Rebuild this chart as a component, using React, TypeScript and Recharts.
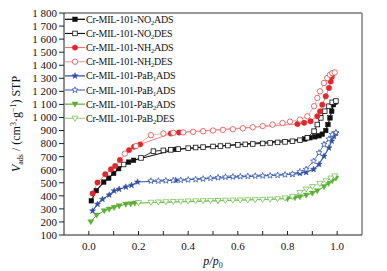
import React from 'react';
import { LineChart, Line, XAxis, YAxis, ReferenceLine, Legend } from 'recharts';

// relative pressure / adsorbed volume
const no2AdsP = [0.01, 0.03, 0.06, 0.08, 0.10, 0.12, 0.16, 0.18, 0.35, 0.87, 0.89, 0.91, 0.927, 0.94, 0.954, 0.963, 0.971, 0.978, 0.985, 0.993];
const no2AdsV = [362, 440, 505, 535, 572, 608, 658, 672, 755, 835, 845, 852, 860, 872, 900, 946, 997, 1048, 1098, 1118];

const no2DesP = [0.14, 0.21, 0.26, 0.30, 0.33, 0.36, 0.40, 0.43, 0.46, 0.50, 0.53, 0.56, 0.60, 0.63, 0.66, 0.70, 0.73, 0.76, 0.79, 0.82, 0.85, 0.88, 0.907, 0.92, 0.934, 0.95, 0.967, 0.98, 0.995];
const no2DesV = [640, 690, 742, 748, 752, 758, 765, 770, 773, 778, 781, 785, 790, 794, 797, 801, 805, 809, 813, 818, 826, 845, 895, 946, 997, 1048, 1086, 1116, 1126];

const nh2AdsP = [0.015, 0.035, 0.066, 0.089, 0.106, 0.125, 0.162, 0.182, 0.207, 0.33, 0.363, 0.84, 0.867, 0.893, 0.92, 0.931, 0.94, 0.954, 0.967, 0.974, 0.978, 0.982];
const nh2AdsV = [418, 502, 565, 603, 628, 674, 750, 776, 794, 877, 885, 950, 959, 971, 1009, 1047, 1098, 1162, 1226, 1276, 1310, 1335];

const nh2DesP = [0.145, 0.19, 0.25, 0.30, 0.34, 0.38, 0.42, 0.46, 0.50, 0.54, 0.58, 0.62, 0.66, 0.70, 0.74, 0.78, 0.81, 0.85, 0.88, 0.907, 0.92, 0.931, 0.947, 0.96, 0.971, 0.98, 0.99];
const nh2DesV = [723, 781, 865, 877, 882, 886, 890, 895, 900, 905, 910, 917, 925, 934, 945, 958, 968, 984, 1009, 1086, 1150, 1200, 1264, 1302, 1327, 1340, 1345];

const pab1AdsP = [0.015, 0.035, 0.055, 0.082, 0.102, 0.122, 0.149, 0.172, 0.196, 0.35, 0.82, 0.85, 0.875, 0.905, 0.927, 0.947, 0.967, 0.978, 0.987, 0.995];
const pab1AdsV = [285, 336, 374, 407, 438, 451, 468, 481, 506, 519, 565, 572, 580, 603, 641, 704, 768, 820, 855, 880];

const pab1DesP = [0.25, 0.28, 0.31, 0.34, 0.37, 0.40, 0.43, 0.46, 0.49, 0.52, 0.55, 0.58, 0.61, 0.64, 0.67, 0.70, 0.73, 0.76, 0.79, 0.82, 0.85, 0.875, 0.905, 0.927, 0.947, 0.967, 0.98, 0.995];
const pab1DesV = [514, 514, 516, 518, 520, 523, 526, 530, 535, 540, 544, 546, 548, 550, 552, 553, 555, 558, 562, 567, 585, 603, 666, 730, 794, 835, 870, 885];

const pab2AdsP = [0.008, 0.031, 0.062, 0.082, 0.102, 0.122, 0.149, 0.169, 0.185, 0.52, 0.80, 0.83, 0.85, 0.875, 0.90, 0.92, 0.947, 0.965, 0.98, 0.995];
const pab2AdsV = [201, 252, 285, 298, 311, 323, 336, 338, 344, 362, 378, 385, 392, 405, 420, 438, 470, 495, 515, 535];

const pab2DesP = [0.20, 0.25, 0.28, 0.31, 0.34, 0.37, 0.40, 0.43, 0.46, 0.49, 0.52, 0.55, 0.58, 0.61, 0.64, 0.67, 0.70, 0.73, 0.76, 0.79, 0.82, 0.85, 0.875, 0.90, 0.93, 0.955, 0.975, 0.99];
const pab2DesV = [348, 350, 352, 354, 356, 358, 360, 361, 362, 363, 364, 366, 367, 368, 369, 370, 372, 374, 377, 383, 395, 425, 451, 470, 495, 514, 535, 552];

const xTicks = [-0.1, 0, 0.1, 0.2, 0.3, 0.4, 0.5, 0.6, 0.7, 0.8, 0.9, 1.0, 1.1];
const yTicks = [100, 200, 300, 400, 500, 600, 700, 800, 900, 1000, 1100, 1200, 1300, 1400, 1500, 1600, 1700, 1800];

const FONT = '"Liberation Serif", "Times New Roman", serif';

type Shape = 'square' | 'circle' | 'star' | 'tri';

const toPoints = (p: number[], v: number[]) => p.map((x, i) => ({ p: x, v: v[i] }));

const series = [
  { key: 'no2a', base: 'NO', sub: '2', tail: 'ADS', data: toPoints(no2AdsP, no2AdsV), color: '#111', line: '#111', lw: 1.1, shape: 'square' as Shape, filled: true },
  { key: 'no2d', base: 'NO', sub: '2', tail: 'DES', data: toPoints(no2DesP, no2DesV), color: '#111', line: '#111', lw: 0.9, shape: 'square' as Shape, filled: false },
  { key: 'nh2a', base: 'NH', sub: '2', tail: 'ADS', data: toPoints(nh2AdsP, nh2AdsV), color: '#e3262b', line: '#ee6a6a', lw: 0.8, shape: 'circle' as Shape, filled: true },
  { key: 'nh2d', base: 'NH', sub: '2', tail: 'DES', data: toPoints(nh2DesP, nh2DesV), color: '#e94a4a', line: '#f08a8a', lw: 0.7, shape: 'circle' as Shape, filled: false },
  { key: 'pb1a', base: 'PaB', sub: '1', tail: 'ADS', data: toPoints(pab1AdsP, pab1AdsV), color: '#2f4ea3', line: '#3655a8', lw: 1.1, shape: 'star' as Shape, filled: true },
  { key: 'pb1d', base: 'PaB', sub: '1', tail: 'ADS', data: toPoints(pab1DesP, pab1DesV), color: '#3a5cb4', line: '#4664b8', lw: 0.9, shape: 'star' as Shape, filled: false },
  { key: 'pb2a', base: 'PaB', sub: '2', tail: 'ADS', data: toPoints(pab2AdsP, pab2AdsV), color: '#5cb035', line: '#5cb035', lw: 1, shape: 'tri' as Shape, filled: true },
  { key: 'pb2d', base: 'PaB', sub: '2', tail: 'DES', data: toPoints(pab2DesP, pab2DesV), color: '#79c35a', line: '#8acc6e', lw: 0.8, shape: 'tri' as Shape, filled: false },
];

function starPath(cx: number, cy: number, r: number) {
  let d = '';
  for (let i = 0; i < 10; i++) {
    const rad = i % 2 === 0 ? r : r * 0.42;
    const a = -Math.PI / 2 + (i * Math.PI) / 5;
    d += (i === 0 ? 'M' : 'L') + (cx + rad * Math.cos(a)).toFixed(2) + ',' + (cy + rad * Math.sin(a)).toFixed(2);
  }
  return d + 'Z';
}

function Marker({ cx, cy, shape, filled, color }: { cx: number; cy: number; shape: Shape; filled: boolean; color: string }) {
  const fill = filled ? color : '#fff';
  const sw = filled ? 0.5 : 0.8;
  if (shape === 'square') return <rect x={cx - 2.3} y={cy - 2.3} width={4.6} height={4.6} fill={fill} stroke={color} strokeWidth={sw} />;
  if (shape === 'circle') return <circle cx={cx} cy={cy} r={2.7} fill={fill} stroke={color} strokeWidth={sw} />;
  if (shape === 'star') return <path d={starPath(cx, cy, 3.2)} fill={fill} stroke={color} strokeWidth={sw} />;
  return <path d={`M${cx - 3},${cy - 2.1}L${cx + 3},${cy - 2.1}L${cx},${cy + 3}Z`} fill={fill} stroke={color} strokeWidth={sw} />;
}

const XTick = (props: any) => {
  const { x, y, payload } = props;
  const v = Math.round(payload.value * 10);
  if (v < 0 || v > 10) return <g />;
  return (
    <g>
      <line x1={x} y1={y} x2={x} y2={y - 4} stroke="#222" strokeWidth={1} />
      {v % 2 === 0 && (
        <text x={x} y={y + 15} textAnchor="middle" fontSize={11} fontFamily={FONT} fill="#111">
          {(v / 10).toFixed(1)}
        </text>
      )}
    </g>
  );
};

const fmtY = (v: number) => (v >= 1000 ? `${Math.floor(v / 1000)} ${String(v % 1000).padStart(3, '0')}` : `${v}`);

const YLabel = () => (
  <text x={20} y={124} transform="rotate(-90 20 124)" textAnchor="middle" fontSize={12} fontFamily={FONT} fill="#111">
    <tspan fontStyle="italic">V</tspan>
    <tspan fontSize={8} dy={3}>ads</tspan>
    <tspan dy={-3}> / (cm</tspan>
    <tspan fontSize={8} dy={-4}>3</tspan>
    <tspan dy={4}>·g</tspan>
    <tspan fontSize={8} dy={-4}>−1</tspan>
    <tspan dy={4}>) STP</tspan>
  </text>
);

const XLabel = () => (
  <text x={213} y={265} textAnchor="middle" fontSize={12} fontFamily={FONT} fill="#111" fontStyle="italic">
    p/p<tspan fontSize={8} dy={3} fontStyle="normal">0</tspan>
  </text>
);

const LegendBox = () => (
  <svg width={200} height={130} style={{ display: 'block' }}>
    {series.map((s, i) => {
      const y = 19.3 + i * 14.14;
      return (
        <g key={s.key}>
          <line x1={65} x2={85} y1={y} y2={y} stroke={s.line} strokeWidth={s.lw + 0.2} />
          <Marker cx={75} cy={y} shape={s.shape} filled={s.filled} color={s.color} />
          <text x={86} y={y + 3.5} fontSize={10} fontFamily={FONT} fill="#111" letterSpacing={-0.2}>
            Cr-MIL-101-{s.base}
            <tspan fontSize={6.5} dy={2}>{s.sub}</tspan>
            <tspan dy={-2}>{s.tail}</tspan>
          </text>
        </g>
      );
    })}
  </svg>
);

export default function App() {
  return (
    <div style={{ position: 'absolute', left: 0, top: 0, width: 387, height: 271, background: '#fff' }}>
      <LineChart width={387} height={271} margin={{ top: 13, right: 25, bottom: 0, left: 14 }}>
        <XAxis
          type="number"
          dataKey="p"
          domain={[-0.1, 1.1]}
          ticks={xTicks}
          interval={0}
          allowDataOverflow
          height={36}
          tickSize={0}
          tickMargin={0}
          tickLine={false}
          tick={<XTick />}
          axisLine={{ stroke: '#222', strokeWidth: 1 }}
          label={<XLabel />}
        />
        <YAxis
          type="number"
          dataKey="v"
          domain={[100, 1800]}
          ticks={yTicks}
          interval={0}
          allowDataOverflow
          width={50}
          tickSize={5}
          tickMargin={2}
          tickFormatter={fmtY}
          tick={{ fontSize: 11, fontFamily: FONT, fill: '#111' }}
          tickLine={{ stroke: '#222' }}
          axisLine={{ stroke: '#222', strokeWidth: 1 }}
          label={<YLabel />}
        />
        <ReferenceLine y={1800} stroke="#333" strokeWidth={1} />
        <ReferenceLine x={1.1} stroke="#8a8a8a" strokeWidth={1.6} />
        <Legend
          layout="vertical"
          align="center"
          verticalAlign="middle"
          wrapperStyle={{ left: 0, top: 0, width: 200, height: 130 }}
          content={() => <LegendBox />}
        />
        {series.map((s) => (
          <Line
            key={s.key}
            data={s.data}
            dataKey="v"
            type="linear"
            stroke={s.line}
            strokeWidth={s.lw}
            isAnimationActive={false}
            legendType="none"
            dot={(props: any) => (
              <Marker key={`${s.key}-${props.index}`} cx={props.cx} cy={props.cy} shape={s.shape} filled={s.filled} color={s.color} />
            )}
            activeDot={false}
          />
        ))}
      </LineChart>
    </div>
  );
}
